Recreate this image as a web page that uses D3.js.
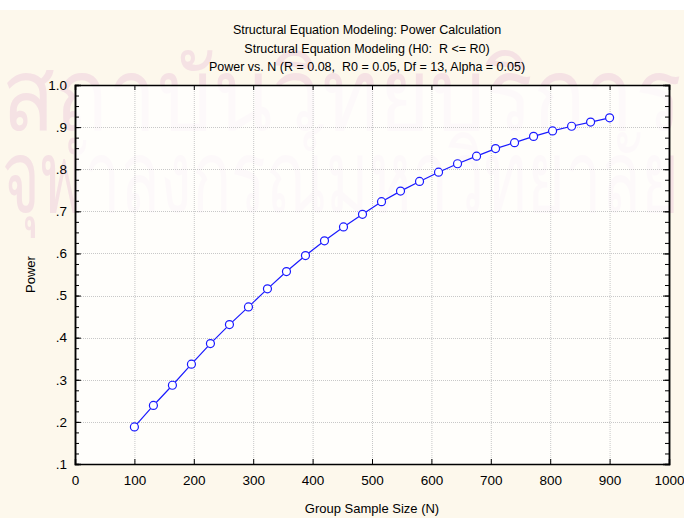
<!DOCTYPE html>
<html>
<head>
<meta charset="utf-8">
<script src="https://cdn.jsdelivr.net/npm/d3@7"></script>
<style>
  body { margin: 0; background: #fff; }
  svg { display: block; font-family: "Liberation Sans", Arial, sans-serif; }
  text { white-space: pre; }
</style>
</head>
<body>
<svg></svg>
<script>
// data
var sampleSizes = [100, 132, 164, 196, 228, 260, 292, 324, 356, 388, 420, 452, 484,
                   516, 548, 580, 612, 644, 676, 708, 740, 772, 804, 836, 868, 900];
var powerValues = [0.188, 0.239, 0.287, 0.337, 0.386, 0.431, 0.473, 0.516, 0.557, 0.595,
                   0.630, 0.663, 0.693, 0.723, 0.748, 0.771, 0.793, 0.813, 0.831, 0.849,
                   0.863, 0.878, 0.891, 0.902, 0.912, 0.922];
var xTicks = [0, 100, 200, 300, 400, 500, 600, 700, 800, 900, 1000];
var yTicks = [0.1, 0.2, 0.3, 0.4, 0.5, 0.6, 0.7, 0.8, 0.9, 1.0];
var titleLines = ['Structural Equation Modeling: Power Calculation',
                  'Structural Equation Modeling (H0:  R <= R0)',
                  'Power vs. N (R = 0.08,  R0 = 0.05, Df = 13, Alpha = 0.05)'];
var watermarkLines = ['สถาบันวิทยบริการ', 'จุฬาลงกรณ์มหาวิทยาลัย'];

var width = 684, height = 518;
var margin = {top: 85, right: 15, bottom: 54, left: 75};
var svg = d3.select('svg').attr('width', width).attr('height', height);

var x = d3.scaleLinear().domain([0, 1000]).range([margin.left, width - margin.right]);
var y = d3.scaleLinear().domain([0.1, 1.0]).range([height - margin.bottom, margin.top]);

// background
svg.append('rect').attr('x', 0).attr('y', 10).attr('width', width).attr('height', height - 10)
   .attr('fill', '#fdf8ec');

// faint scanned watermark, stretched to the page width
svg.append('g').attr('fill', '#f5e2e4').attr('font-family', 'Noto Sans, sans-serif')
   .selectAll('text').data(watermarkLines).enter().append('text')
   .attr('font-size', 100)
   .text(d => d)
   .attr('transform', function(d, i) {
       var len = this.getComputedTextLength();
       return `translate(2,${130 + i * 82}) scale(${678 / len},1)`;
   });

svg.append('rect')
   .attr('x', x(0)).attr('y', y(1)).attr('width', x(1000) - x(0)).attr('height', y(0.1) - y(1))
   .attr('fill', '#fff').attr('fill-opacity', 0.8);

// grid
var grid = svg.append('g').attr('stroke', '#c8c8c8').attr('stroke-dasharray', '1,1');
grid.selectAll('.gx').data(xTicks.slice(1, -1)).enter().append('line')
    .attr('x1', d => x(d) + 0.5).attr('x2', d => x(d) + 0.5)
    .attr('y1', y(1)).attr('y2', y(0.1));
grid.selectAll('.gy').data(yTicks.slice(1, -1)).enter().append('line')
    .attr('y1', d => Math.round(y(d)) + 0.5).attr('y2', d => Math.round(y(d)) + 0.5)
    .attr('x1', x(0)).attr('x2', x(1000));

// axes
var minor = d3.range(0.1, 1.0001, 0.025);
svg.append('g').attr('transform', `translate(0,${y(0.1)})`)
   .call(d3.axisBottom(x).tickValues(xTicks).tickSize(-5).tickPadding(11).tickFormat(d3.format('d')));
svg.append('g').attr('transform', `translate(0,${y(1)})`)
   .call(d3.axisTop(x).tickValues(xTicks).tickSize(-5).tickFormat(''));
svg.append('g').attr('transform', `translate(${x(0)},0)`)
   .call(d3.axisLeft(y).tickValues(minor).tickSize(-4).tickFormat(''));
svg.append('g').attr('transform', `translate(${x(0)},0)`)
   .call(d3.axisLeft(y).tickValues(yTicks).tickSize(-6).tickPadding(8)
         .tickFormat(d => d === 1 ? '1.0' : d3.format('.1f')(d).replace(/^0/, '')));
svg.append('g').attr('transform', `translate(${x(1000)},0)`)
   .call(d3.axisRight(y).tickValues(minor).tickSize(-4).tickFormat(''));
svg.append('g').attr('transform', `translate(${x(1000)},0)`)
   .call(d3.axisRight(y).tickValues(yTicks).tickSize(-6).tickFormat(''));

svg.selectAll('.domain').attr('stroke', '#000').attr('stroke-width', 1.5);
svg.selectAll('.tick line').attr('stroke', '#000');
svg.selectAll('.tick text').attr('fill', '#000').attr('font-size', 13.5)
   .attr('font-family', '"Liberation Sans", Arial, sans-serif');

// line + markers
var pts = sampleSizes.map((n, i) => [n, powerValues[i]]);
svg.append('path').datum(pts)
   .attr('fill', 'none').attr('stroke', '#1a1aff').attr('stroke-width', 1.2)
   .attr('d', d3.line().x(d => x(d[0])).y(d => y(d[1])));
svg.selectAll('.pt').data(pts).enter().append('circle')
   .attr('cx', d => x(d[0])).attr('cy', d => y(d[1])).attr('r', 4)
   .attr('fill', '#fff').attr('stroke', '#1a1aff').attr('stroke-width', 1.2);

// titles
svg.selectAll('.title').data(titleLines).enter().append('text')
   .attr('x', (x(0) + x(1000)) / 2 - 5).attr('y', (d, i) => 34 + i * 18.5)
   .attr('text-anchor', 'middle').attr('font-size', 12.5).text(d => d);
svg.append('text').attr('x', (x(0) + x(1000)) / 2).attr('y', 513)
   .attr('text-anchor', 'middle').attr('font-size', 13).text('Group Sample Size (N)');
svg.append('text').attr('transform', `translate(35,${(y(0.1) + y(1)) / 2}) rotate(-90)`)
   .attr('text-anchor', 'middle').attr('font-size', 13).text('Power');
</script>
</body>
</html>
